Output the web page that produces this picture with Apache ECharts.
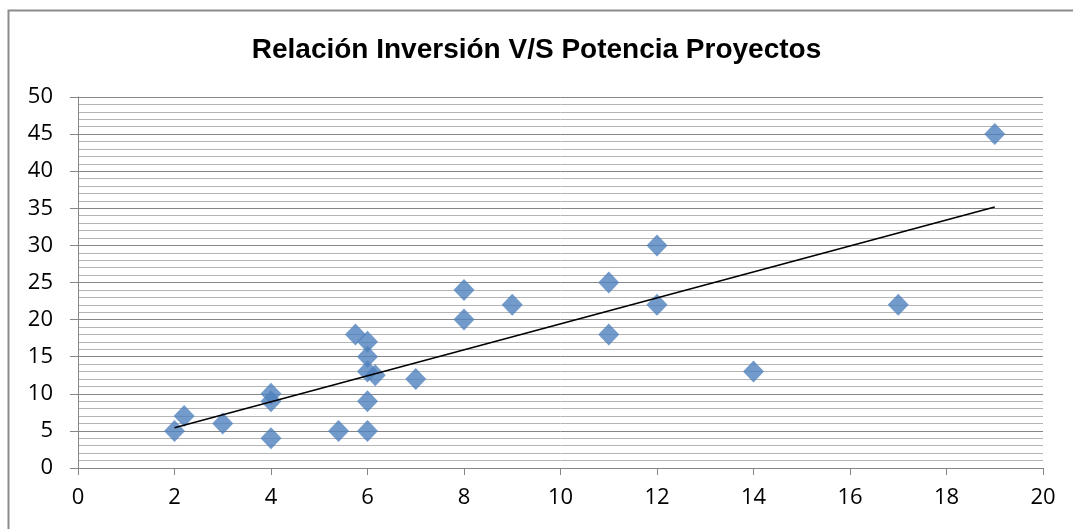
<!DOCTYPE html>
<html>
<head>
<meta charset="utf-8">
<script src="https://cdn.jsdelivr.net/npm/echarts@6/dist/echarts.min.js"></script>
<style>
  html, body { margin: 0; padding: 0; background: #fff; }
  #chart { width: 1073px; height: 529px; }
</style>
</head>
<body>
<div id="chart"></div>
<script>
// Potencia (x) vs. Inversión (y) per project
const potencia = [2, 2.2, 3, 4, 4, 4, 5.4, 5.75, 6, 6, 6, 6.16, 6, 6, 7, 8, 8, 9, 11, 11, 12, 12, 14, 17, 19];
const inversion = [5, 7, 6, 10, 9, 4, 5, 18, 17, 15, 13, 12.5, 9, 5, 12, 24, 20, 22, 25, 18, 30, 22, 13, 22, 45];
const titleText = 'Relación Inversión V/S Potencia Proyectos';

// Least-squares linear trend across the data range
function linearTrend(xs, ys) {
  const n = xs.length;
  let sx = 0, sy = 0, sxx = 0, sxy = 0;
  for (let i = 0; i < n; i++) {
    sx += xs[i]; sy += ys[i];
    sxx += xs[i] * xs[i]; sxy += xs[i] * ys[i];
  }
  const slope = (n * sxy - sx * sy) / (n * sxx - sx * sx);
  const intercept = (sy - slope * sx) / n;
  const x0 = Math.min(...xs), x1 = Math.max(...xs);
  return [[x0, intercept + slope * x0], [x1, intercept + slope * x1]];
}

const points = potencia.map((x, i) => [x, inversion[i]]);
const trend = linearTrend(potencia, inversion);

const labelFont = { fontFamily: 'Open Sans, Noto Sans, sans-serif', fontSize: 22, color: '#000' };

const chart = echarts.init(document.getElementById('chart'), null, { renderer: 'canvas' });
chart.setOption({
  animation: false,
  backgroundColor: '#fff',
  title: {
    text: titleText,
    left: 'center',
    top: 31,
    textStyle: { fontFamily: 'Liberation Sans, Arial, sans-serif', fontWeight: 'bold', fontSize: 28, color: '#000' }
  },
  graphic: [{
    type: 'rect',
    shape: { x: 8.5, y: 10.5, width: 1100, height: 600 },
    style: { fill: 'none', stroke: '#8c8c8c', lineWidth: 2 },
    silent: true
  }],
  grid: { left: 78, right: 30, top: 97, bottom: 61 },
  xAxis: {
    type: 'value',
    min: 0, max: 20, interval: 2,
    axisLine: { show: true, lineStyle: { color: '#868686', width: 1 } },
    axisTick: { show: true, length: 7, lineStyle: { color: '#868686' } },
    splitLine: { show: false },
    axisLabel: Object.assign({ margin: 19 }, labelFont)
  },
  yAxis: {
    type: 'value',
    min: 0, max: 50, interval: 5,
    axisLine: { show: true, lineStyle: { color: '#868686', width: 1 } },
    axisTick: { show: true, length: 8, lineStyle: { color: '#868686' } },
    splitLine: { show: true, lineStyle: { color: '#868686', width: 1 } },
    minorTick: { show: false, splitNumber: 5 },
    minorSplitLine: { show: true, lineStyle: { color: '#b4b4b4', width: 1 } },
    axisLabel: Object.assign({ margin: 25 }, labelFont)
  },
  series: [
    {
      type: 'line',
      data: trend,
      symbol: 'none',
      lineStyle: { color: '#000', width: 1.6 },
      z: 3
    },
    {
      type: 'scatter',
      data: points,
      symbol: 'diamond',
      symbolSize: [21, 22],
      itemStyle: { color: '#4f81bd' },
      z: 2
    }
  ]
});
</script>
</body>
</html>
